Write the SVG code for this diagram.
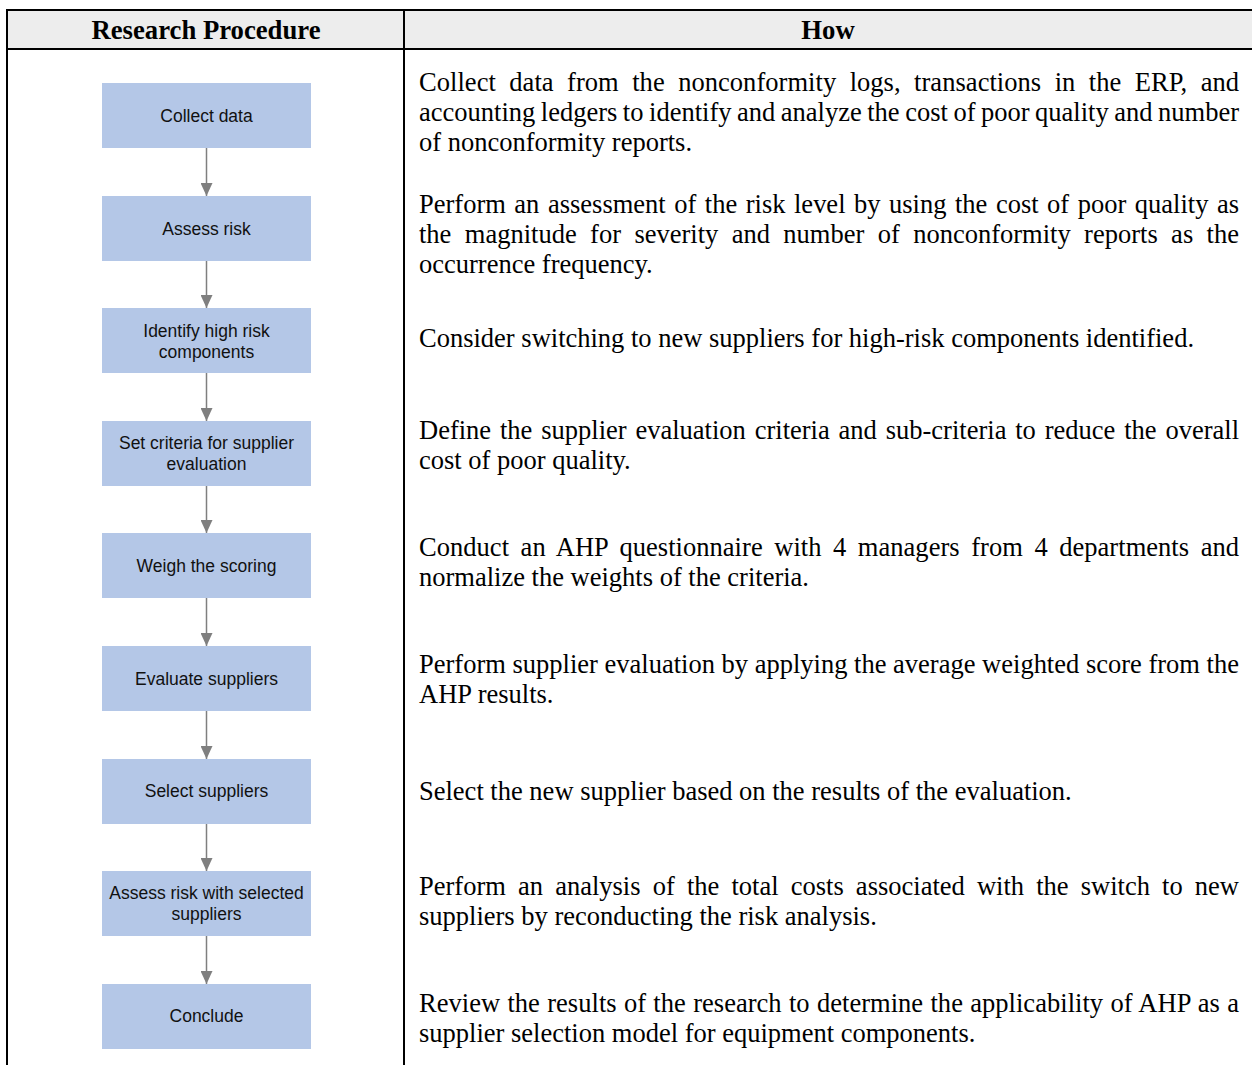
<svg xmlns="http://www.w3.org/2000/svg" width="1252" height="1065" viewBox="0 0 1252 1065">
<style>
.grid{stroke:#000;stroke-width:2;fill:none}
.hdr{font-family:"Liberation Serif","Times New Roman",serif;font-size:26.7px;font-weight:bold;fill:#000;text-anchor:middle}
.box{fill:#b4c7e7}
.bt{font-family:"Liberation Sans",Arial,sans-serif;font-size:17.5px;fill:#111;text-anchor:middle}
.how{font-family:"Liberation Serif","Times New Roman",serif;font-size:26.5px;fill:#000}
.conn{stroke:#7f7f7f;stroke-width:1.5;fill:none;marker-end:url(#arr)}
</style>
<defs>
<marker id="arr" viewBox="0 0 13 12" markerWidth="13" markerHeight="12" refX="13" refY="6" orient="auto" markerUnits="userSpaceOnUse">
<path d="M0,0 L13,6 L0,12 z" fill="#7f7f7f"/>
</marker>
</defs>
<rect x="7" y="10" width="1245" height="39" fill="#ededed"/>
<g id="table">
<line class="grid" x1="6" y1="10" x2="1252" y2="10"/>
<line class="grid" x1="6" y1="49" x2="1252" y2="49"/>
<line class="grid" x1="7" y1="9" x2="7" y2="1065"/>
<line class="grid" x1="404" y1="9" x2="404" y2="1065"/>
<text class="hdr" x="206" y="39">Research Procedure</text>
<text class="hdr" x="828" y="39">How</text>
</g>
<g id="connectors">
<line class="conn" x1="206.5" y1="148" x2="206.5" y2="196"/>
<line class="conn" x1="206.5" y1="261" x2="206.5" y2="308"/>
<line class="conn" x1="206.5" y1="373" x2="206.5" y2="421"/>
<line class="conn" x1="206.5" y1="486" x2="206.5" y2="533"/>
<line class="conn" x1="206.5" y1="598" x2="206.5" y2="646"/>
<line class="conn" x1="206.5" y1="711" x2="206.5" y2="759"/>
<line class="conn" x1="206.5" y1="824" x2="206.5" y2="871"/>
<line class="conn" x1="206.5" y1="936" x2="206.5" y2="984"/>
</g>
<g id="n1"><rect class="box" x="102" y="83" width="209" height="65"/><text class="bt" x="206.5" y="121.5">Collect data</text></g>
<g id="n2"><rect class="box" x="102" y="196" width="209" height="65"/><text class="bt" x="206.5" y="234.5">Assess risk</text></g>
<g id="n3"><rect class="box" x="102" y="308" width="209" height="65"/><text class="bt" x="206.5" y="336.5">Identify high risk</text><text class="bt" x="206.5" y="357.5">components</text></g>
<g id="n4"><rect class="box" x="102" y="421" width="209" height="65"/><text class="bt" x="206.5" y="449">Set criteria for supplier</text><text class="bt" x="206.5" y="470">evaluation</text></g>
<g id="n5"><rect class="box" x="102" y="533" width="209" height="65"/><text class="bt" x="206.5" y="571.5">Weigh the scoring</text></g>
<g id="n6"><rect class="box" x="102" y="646" width="209" height="65"/><text class="bt" x="206.5" y="684.5">Evaluate suppliers</text></g>
<g id="n7"><rect class="box" x="102" y="759" width="209" height="65"/><text class="bt" x="206.5" y="797">Select suppliers</text></g>
<g id="n8"><rect class="box" x="102" y="871" width="209" height="65"/><text class="bt" x="206.5" y="899">Assess risk with selected</text><text class="bt" x="206.5" y="920">suppliers</text></g>
<g id="n9"><rect class="box" x="102" y="984" width="209" height="65"/><text class="bt" x="206.5" y="1022">Conclude</text></g>
<g id="how">
<text class="how" x="419" y="91" word-spacing="6.78" textLength="820" lengthAdjust="spacing">Collect data from the nonconformity logs, transactions in the ERP, and</text>
<text class="how" x="419" y="121" word-spacing="-1.09" textLength="820" lengthAdjust="spacing">accounting ledgers to identify and analyze the cost of poor quality and number</text>
<text class="how" x="419" y="151">of nonconformity reports.</text>
<text class="how" x="419" y="213" word-spacing="1.9" textLength="820" lengthAdjust="spacing">Perform an assessment of the risk level by using the cost of poor quality as</text>
<text class="how" x="419" y="243" word-spacing="6.78" textLength="820" lengthAdjust="spacing">the magnitude for severity and number of nonconformity reports as the</text>
<text class="how" x="419" y="273">occurrence frequency.</text>
<text class="how" x="419" y="347">Consider switching to new suppliers for high-risk components identified.</text>
<text class="how" x="419" y="439" word-spacing="2.23" textLength="820" lengthAdjust="spacing">Define the supplier evaluation criteria and sub-criteria to reduce the overall</text>
<text class="how" x="419" y="469">cost of poor quality.</text>
<text class="how" x="419" y="556" word-spacing="4.87" textLength="820" lengthAdjust="spacing">Conduct an AHP questionnaire with 4 managers from 4 departments and</text>
<text class="how" x="419" y="586">normalize the weights of the criteria.</text>
<text class="how" x="419" y="673" word-spacing="0.01" textLength="820" lengthAdjust="spacing">Perform supplier evaluation by applying the average weighted score from the</text>
<text class="how" x="419" y="703">AHP results.</text>
<text class="how" x="419" y="800">Select the new supplier based on the results of the evaluation.</text>
<text class="how" x="419" y="895" word-spacing="5.53" textLength="820" lengthAdjust="spacing">Perform an analysis of the total costs associated with the switch to new</text>
<text class="how" x="419" y="925">suppliers by reconducting the risk analysis.</text>
<text class="how" x="419" y="1012" word-spacing="0.63" textLength="820" lengthAdjust="spacing">Review the results of the research to determine the applicability of AHP as a</text>
<text class="how" x="419" y="1042">supplier selection model for equipment components.</text>
</g>
</svg>
